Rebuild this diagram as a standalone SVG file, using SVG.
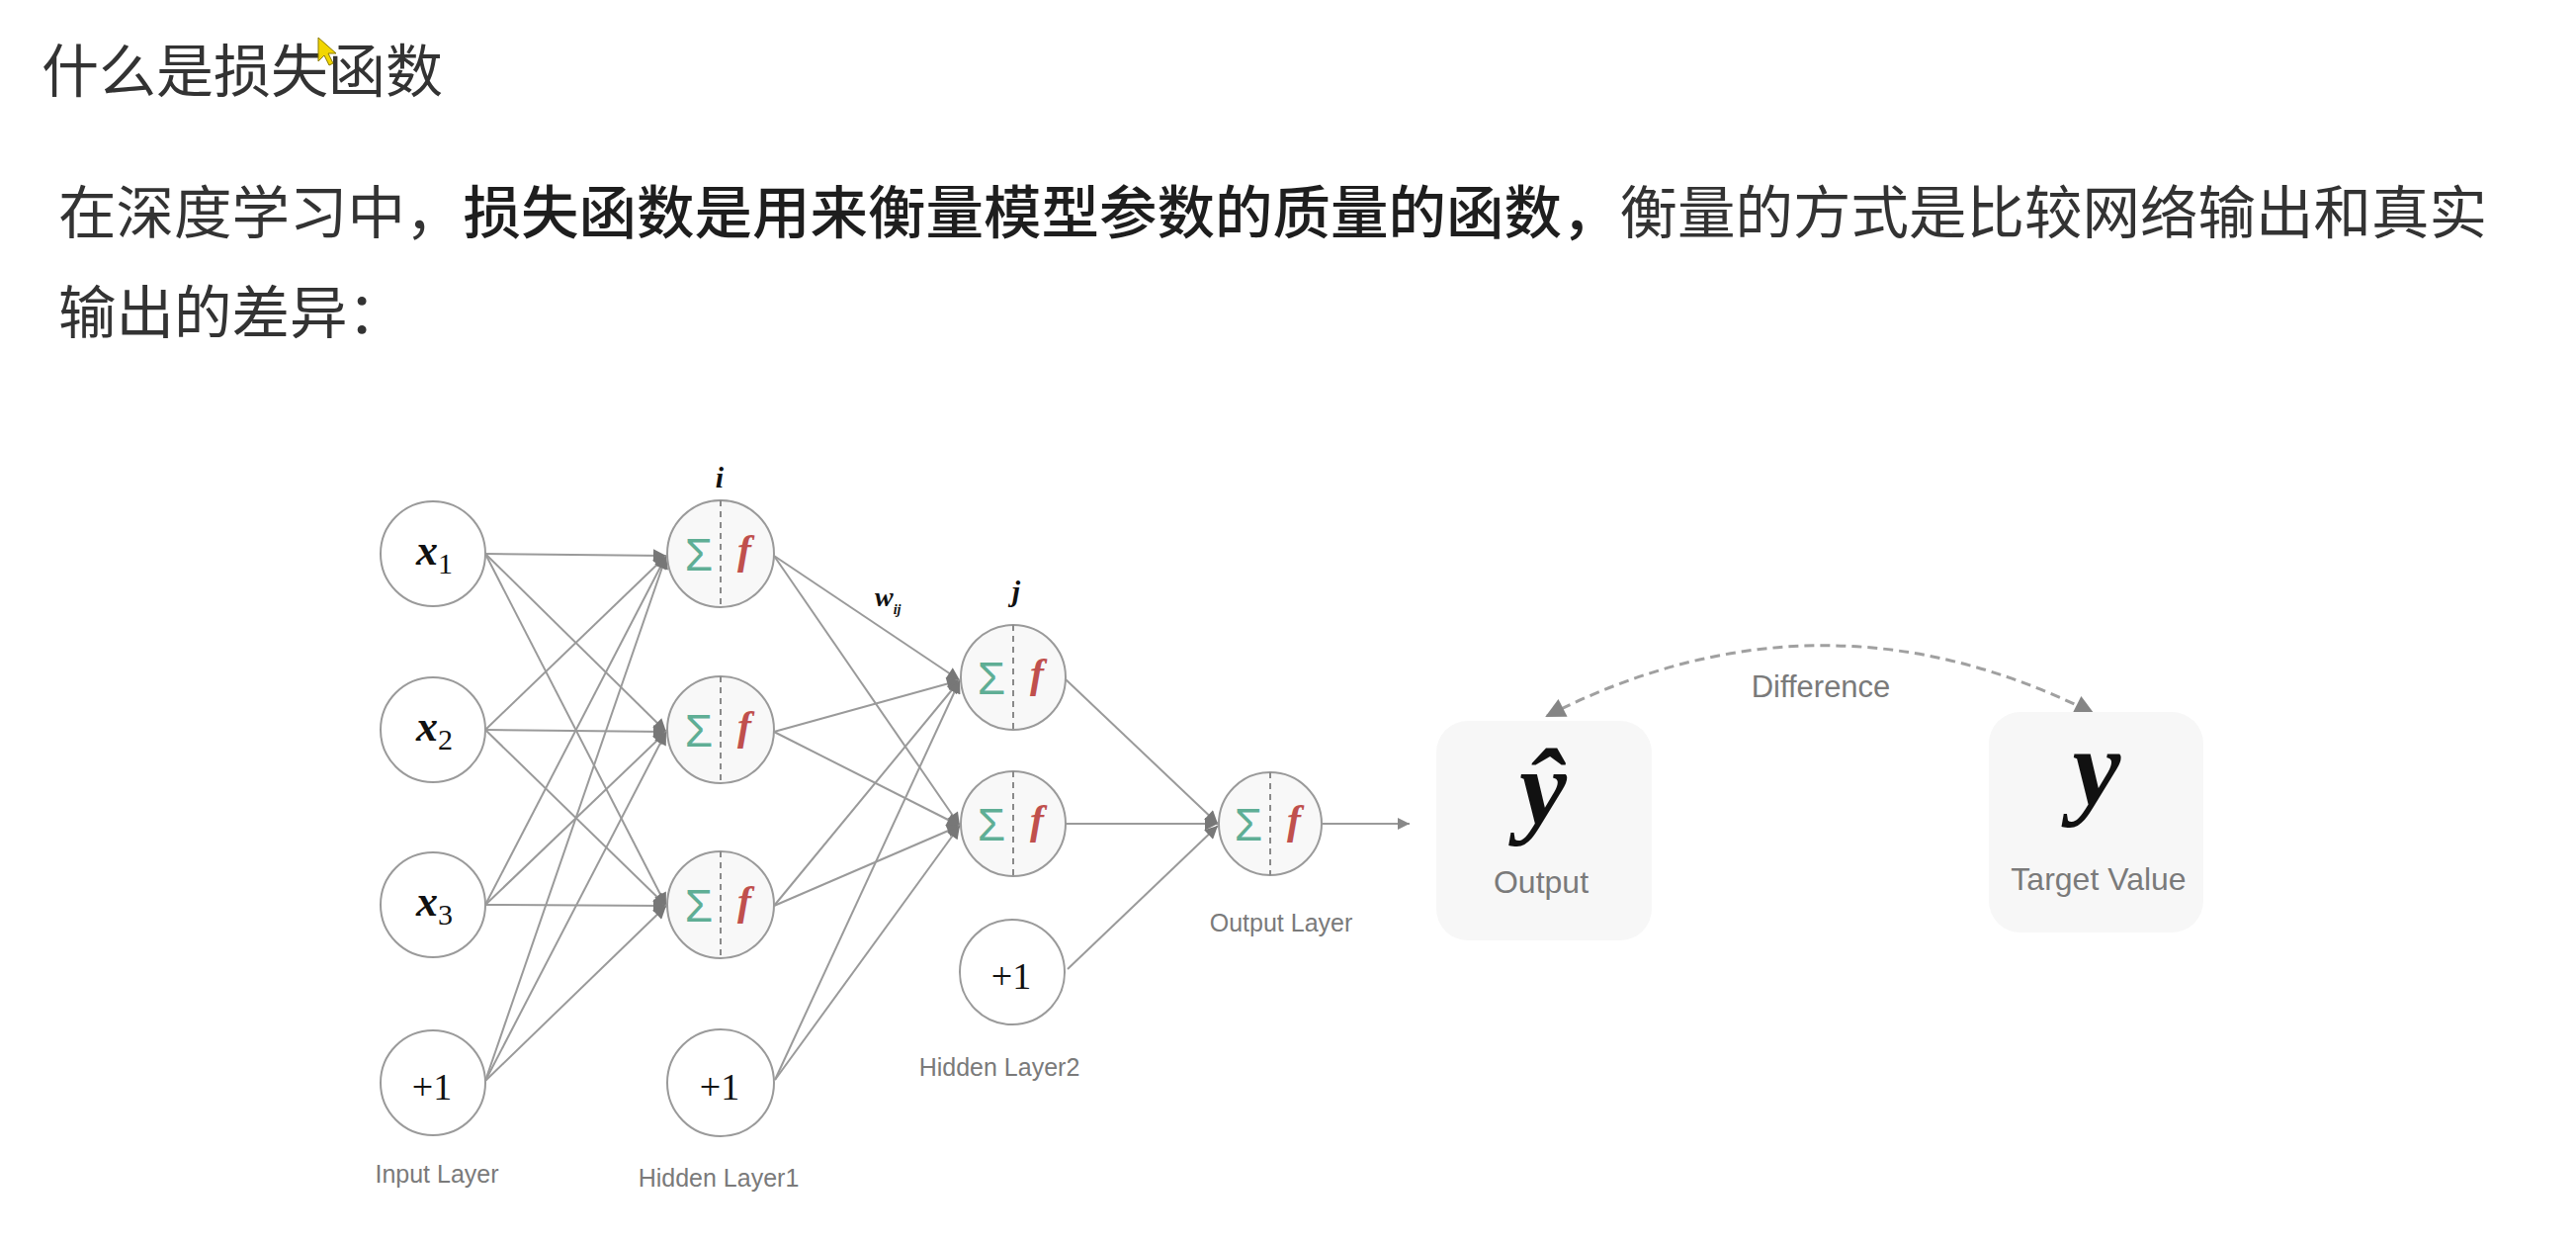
<svg xmlns="http://www.w3.org/2000/svg" width="2606" height="1258" viewBox="0 0 2606 1258">
<style>
.cjk{font-family:"Noto Sans CJK SC","Noto Sans",sans-serif;fill:#333}
.lbl{font-family:"Liberation Sans",Arial,sans-serif;fill:#7a7a7a;text-anchor:middle}
.math{font-family:"Liberation Serif","Times New Roman",serif;fill:#111}
.node{stroke:#9a9a9a;stroke-width:2}
.inp{fill:#fff}
.hid{fill:#f8f8f8}
.dash{stroke:#8a8a8a;stroke-width:2;stroke-dasharray:6 5}
.sig{font-family:"Liberation Sans",Arial,sans-serif;font-size:46px;fill:#5fae95;text-anchor:middle}
.fn{font-family:"Liberation Serif","Times New Roman",serif;font-style:italic;font-weight:bold;font-size:42px;fill:#c0504d;text-anchor:middle}
.conn{stroke:#9a9a9a;stroke-width:2;fill:none}
.box{fill:#f7f7f7}
.xl{font-family:"Liberation Serif","Times New Roman",serif;fill:#111;font-size:44px;font-style:italic;font-weight:bold}
.sub{font-size:30px;font-style:normal;font-weight:normal}
.one{font-family:"Liberation Serif","Times New Roman",serif;fill:#111;font-size:38px;text-anchor:middle}
</style>
<defs>
<marker id="ah" viewBox="0 0 10 10" refX="10" refY="5" markerWidth="16" markerHeight="13" markerUnits="userSpaceOnUse" orient="auto"><path d="M0,0 L10,5 L0,10 z" fill="#777"/></marker>
<marker id="ao" viewBox="0 0 10 10" refX="10" refY="5" markerWidth="16" markerHeight="12" markerUnits="userSpaceOnUse" orient="auto"><path d="M0,0 L10,5 L0,10 z" fill="#888"/></marker>
<marker id="ad" viewBox="0 0 10 10" refX="9" refY="5" markerWidth="24" markerHeight="20" markerUnits="userSpaceOnUse" orient="auto-start-reverse"><path d="M0,0 L10,5 L0,10 z" fill="#858585"/></marker>
</defs>
<rect width="2606" height="1258" fill="#fff"/>

<g id="title">
<text class="cjk" x="42" y="93" font-size="58" fill="#222">什么是损失函数</text>
<polygon points="322,38 322,62 328,56 333,66 337,64 332,54 340,54" fill="#f2d600" stroke="#8a7a00" stroke-width="1"/>
</g>
<g id="body">
<text class="cjk" x="59" y="236" font-size="58.5">在深度学习中，<tspan font-weight="500" fill="#1e1e1e">损失函数是用来衡量模型参数的质量的函数，</tspan>衡量的方式是比较网络输出和真实</text>
<text class="cjk" x="59" y="337" font-size="58.5">输出的差异：</text>
</g>

<g id="connectors">
<path class="conn" marker-end="url(#ah)" d="M491,560 L674,562"/>
<path class="conn" marker-end="url(#ah)" d="M491,560 L674,740"/>
<path class="conn" marker-end="url(#ah)" d="M491,560 L674,916"/>
<path class="conn" marker-end="url(#ah)" d="M491,738 L674,562"/>
<path class="conn" marker-end="url(#ah)" d="M491,738 L674,740"/>
<path class="conn" marker-end="url(#ah)" d="M491,738 L674,916"/>
<path class="conn" marker-end="url(#ah)" d="M491,915 L674,562"/>
<path class="conn" marker-end="url(#ah)" d="M491,915 L674,740"/>
<path class="conn" marker-end="url(#ah)" d="M491,915 L674,916"/>
<path class="conn" marker-end="url(#ah)" d="M491,1093 L674,562"/>
<path class="conn" marker-end="url(#ah)" d="M491,1093 L674,740"/>
<path class="conn" marker-end="url(#ah)" d="M491,1093 L674,916"/>
<path class="conn" marker-end="url(#ah)" d="M783,562 L971,688"/>
<path class="conn" marker-end="url(#ah)" d="M783,562 L971,835"/>
<path class="conn" marker-end="url(#ah)" d="M783,740 L971,688"/>
<path class="conn" marker-end="url(#ah)" d="M783,740 L971,835"/>
<path class="conn" marker-end="url(#ah)" d="M783,916 L971,688"/>
<path class="conn" marker-end="url(#ah)" d="M783,916 L971,835"/>
<path class="conn" marker-end="url(#ah)" d="M784,1092 L971,688"/>
<path class="conn" marker-end="url(#ah)" d="M784,1092 L971,835"/>
<path class="conn" marker-end="url(#ah)" d="M1078,687 L1232,833"/>
<path class="conn" marker-end="url(#ah)" d="M1078,833 L1232,833"/>
<path class="conn" marker-end="url(#ah)" d="M1080,980 L1232,835"/>
<path class="conn" marker-end="url(#ao)" d="M1338,833 L1426,833"/>
<path d="M1565,724 Q1842,583 2117,721" fill="none" stroke="#a0a0a0" stroke-width="3" stroke-dasharray="10 6" marker-start="url(#ad)" marker-end="url(#ad)"/>
</g>

<g id="input-x1"><circle class="node inp" cx="438" cy="560" r="53"/><text class="xl" x="421" y="571">x<tspan class="sub" dy="9">1</tspan></text></g>
<g id="input-x2"><circle class="node inp" cx="438" cy="738" r="53"/><text class="xl" x="421" y="749">x<tspan class="sub" dy="9">2</tspan></text></g>
<g id="input-x3"><circle class="node inp" cx="438" cy="915" r="53"/><text class="xl" x="421" y="926">x<tspan class="sub" dy="9">3</tspan></text></g>
<g id="input-bias"><circle class="node inp" cx="438" cy="1095" r="53"/><text class="one" x="437" y="1112">+1</text></g>
<g id="input-label"><text class="lbl" x="442" y="1196" font-size="25">Input Layer</text></g>

<g id="h1-1"><circle class="node hid" cx="729" cy="560" r="54"/><line class="dash" x1="729" y1="506" x2="729" y2="614"/><text class="sig" x="707" y="577">Σ</text><text class="fn" x="753" y="570">f</text></g>
<g id="h1-2"><circle class="node hid" cx="729" cy="738" r="54"/><line class="dash" x1="729" y1="684" x2="729" y2="792"/><text class="sig" x="707" y="755">Σ</text><text class="fn" x="753" y="748">f</text></g>
<g id="h1-3"><circle class="node hid" cx="729" cy="915" r="54"/><line class="dash" x1="729" y1="861" x2="729" y2="969"/><text class="sig" x="707" y="932">Σ</text><text class="fn" x="753" y="925">f</text></g>
<g id="h1-bias"><circle class="node inp" cx="729" cy="1095" r="54"/><text class="one" x="728" y="1112">+1</text></g>
<g id="h1-label"><text class="math" x="728" y="493" font-size="30" font-style="italic" font-weight="bold" text-anchor="middle">i</text><text class="lbl" x="727" y="1200" font-size="25">Hidden Layer1</text></g>

<g id="wij"><text class="math" x="885" y="613" font-size="28" font-style="italic" font-weight="bold">w<tspan font-size="14" dy="8">ij</tspan></text></g>

<g id="h2-1"><circle class="node hid" cx="1025" cy="685" r="53"/><line class="dash" x1="1025" y1="632" x2="1025" y2="738"/><text class="sig" x="1003" y="702">Σ</text><text class="fn" x="1049" y="695">f</text></g>
<g id="h2-2"><circle class="node hid" cx="1025" cy="833" r="53"/><line class="dash" x1="1025" y1="780" x2="1025" y2="886"/><text class="sig" x="1003" y="850">Σ</text><text class="fn" x="1049" y="843">f</text></g>
<g id="h2-bias"><circle class="node inp" cx="1024" cy="983" r="53"/><text class="one" x="1023" y="1000">+1</text></g>
<g id="h2-label"><text class="math" x="1028" y="608" font-size="30" font-style="italic" font-weight="bold" text-anchor="middle">j</text><text class="lbl" x="1011" y="1088" font-size="25">Hidden Layer2</text></g>

<g id="out-node"><circle class="node hid" cx="1285" cy="833" r="52"/><line class="dash" x1="1285" y1="781" x2="1285" y2="885"/><text class="sig" x="1263" y="850">Σ</text><text class="fn" x="1309" y="843">f</text><text class="lbl" x="1296" y="942" font-size="25">Output Layer</text></g>

<g id="output-box"><rect class="box" x="1453" y="729" width="218" height="222" rx="32"/><text class="math" x="1561" y="833" font-size="108" font-style="italic" font-weight="bold" text-anchor="middle">ŷ</text><text class="lbl" x="1559" y="903" font-size="32">Output</text></g>
<g id="target-box"><rect class="box" x="2012" y="720" width="217" height="223" rx="32"/><text class="math" x="2121" y="814" font-size="110" font-style="italic" font-weight="bold" text-anchor="middle">y</text><text class="lbl" x="2123" y="900" font-size="32">Target Value</text></g>
<g id="difference-label"><text class="lbl" x="1842" y="705" font-size="31">Difference</text></g>
</svg>
